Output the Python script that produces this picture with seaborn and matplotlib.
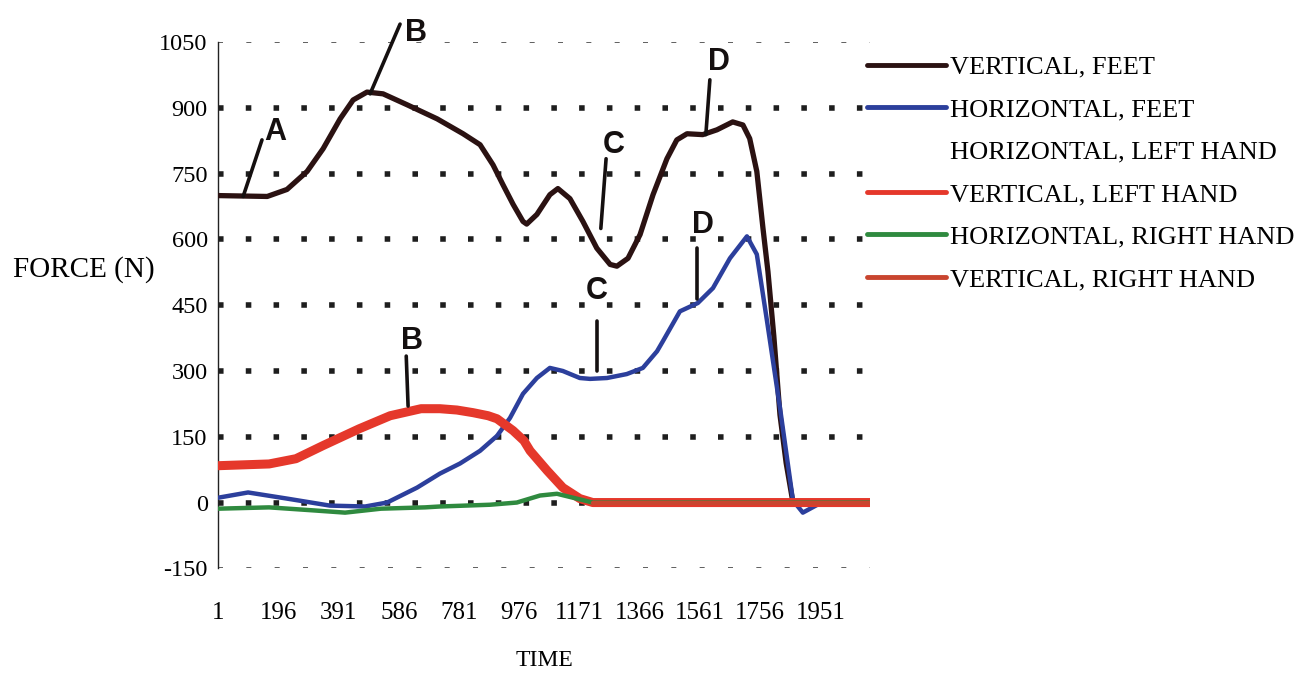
import numpy as np
import pandas as pd
import seaborn as sns
import matplotlib.pyplot as plt
from matplotlib.ticker import MultipleLocator

sns.set_theme(style="white")
plt.rcParams['font.family'] = ['Liberation Serif', 'DejaVu Serif']
plt.rcParams['axes.unicode_minus'] = False
for k in ['text.color', 'axes.labelcolor', 'xtick.color', 'ytick.color']:
    plt.rcParams[k] = 'black'

# series (time index, force in N)
vf_time = [1, 160, 224, 289, 341, 396, 438, 483, 535, 613, 710, 794, 849, 891, 923, 956,
           988, 1000, 1033, 1075, 1101, 1140, 1182, 1227, 1270, 1292, 1328, 1367, 1409,
           1454, 1486, 1519, 1570, 1616, 1667, 1700, 1722, 1745, 1765, 1781, 1800, 1820,
           1840, 1862, 1900, 2111]
vf_force = [700, 698, 714, 755, 807, 875, 918, 936, 932, 907, 875, 841, 816, 770, 725, 680,
            641, 635, 657, 702, 716, 693, 641, 580, 543, 539, 557, 611, 702,
            784, 827, 841, 839, 850, 868, 861, 830, 755, 625, 527, 380, 200,
            90, 0, 0, 0]

hf_time = [1, 98, 224, 363, 477, 548, 645, 719, 784, 849, 904, 946, 988, 1033, 1075, 1117,
           1172, 1205, 1260, 1324, 1376, 1422, 1441, 1496, 1554, 1603, 1658, 1713, 1745,
           1778, 1820, 1862, 1894, 1949, 2111]
hf_force = [11, 23, 9, -7, -9, 0, 34, 66, 89, 118, 152, 193, 248, 284, 307, 300,
            284, 282, 284, 293, 307, 345, 368, 436, 455, 489, 557, 607, 566,
            414, 216, 5, -23, -2, 0]

hlh_time = [1, 2111]
hlh_force = [0, 0]

vlh_time = [1, 166, 253, 341, 457, 558, 658, 719, 774, 826, 875, 904, 956, 991, 1011, 1066,
            1117, 1172, 1214, 2111]
vlh_force = [84, 88, 100, 130, 168, 198, 214, 214, 211, 205, 198, 191, 164, 141, 118, 73,
             34, 9, 0, 0]

hrh_time = [1, 166, 312, 412, 528, 671, 719, 881, 968, 1043, 1098, 1150, 1214, 2111]
hrh_force = [-14, -11, -18, -23, -14, -11, -9, -5, 0, 16, 20, 11, 0, 0]

vrh_time = [1214, 1600, 2111]
vrh_force = [0, 0, 0]

series_names = ["VERTICAL, FEET", "HORIZONTAL, FEET", "HORIZONTAL, LEFT HAND",
                "VERTICAL, LEFT HAND", "HORIZONTAL, RIGHT HAND", "VERTICAL, RIGHT HAND"]
series_colors = ["#2b1212", "#2c3f9c", "none", "#e5382b", "#2f8a3f", "#c9452f"]
series_widths = [3.8, 3.2, 2.0, 6.5, 3.2, 3.2]

y_ticks = [-150, 0, 150, 300, 450, 600, 750, 900, 1050]
x_ticks = [1, 196, 391, 586, 781, 976, 1171, 1366, 1561, 1756, 1951]

# hand-written marks on the scan: letter, text position, stroke start, stroke end
marks = [("A", (185, 845), (82, 698), (143, 827)),
         ("B", (640, 1070), (493, 932), (590, 1091)),
         ("C", (1283, 816), (1240, 625), (1257, 784)),
         ("D", (1622, 1005), (1580, 839), (1593, 964)),
         ("D", (1570, 634), (1551, 464), (1551, 580)),
         ("C", (1228, 482), (1228, 300), (1228, 414)),
         ("B", (629, 368), (616, 220), (610, 334))]

series = [(vf_time, vf_force), (hf_time, hf_force), (hlh_time, hlh_force),
          (vlh_time, vlh_force), (hrh_time, hrh_force), (vrh_time, vrh_force)]

fig = plt.figure(figsize=(13.14, 6.79), dpi=100)
ax = fig.add_axes([0.166, 0.163, 0.496, 0.775])

for i, (t, f) in enumerate(series):
    df = pd.DataFrame({"TIME": t, "FORCE": f})
    sns.lineplot(data=df, x="TIME", y="FORCE", ax=ax, color=series_colors[i],
                 linewidth=series_widths[i], label=series_names[i], zorder=3 + i,
                 solid_capstyle="round", solid_joinstyle="round")

ax.set_xlim(1, 2111)
ax.set_ylim(-150, 1050)
ax.set_yticks(y_ticks)
ax.set_yticklabels([str(v) for v in y_ticks])
ax.yaxis.set_minor_locator(MultipleLocator(50))
ax.set_xticks(x_ticks)
ax.set_xticklabels([str(v) for v in x_ticks])

ax.tick_params(axis="x", length=0, pad=24, labelsize=18)
ax.tick_params(axis="y", which="major", length=5, width=1, direction="inout", pad=5,
               labelsize=17.5)
ax.tick_params(axis="y", which="minor", length=3, width=0.8, direction="inout")

for s in ["top", "right", "bottom"]:
    ax.spines[s].set_visible(False)
ax.spines["left"].set_color("#222222")
ax.spines["left"].set_linewidth(1.0)

# dotted grid like the scan
ax.yaxis.grid(True, color="#1e1e1e", linestyle=(0, (1, 4)), linewidth=4)
gl = ax.get_ygridlines()
for g in (gl[0], gl[-1]):
    g.set_linewidth(1.2)
    g.set_linestyle((0, (3, 14)))
    g.set_color("#444444")
ax.set_axisbelow(True)

ax.set_xlabel("TIME", fontsize=17, labelpad=19)
ax.set_ylabel("FORCE (N)", fontsize=21, rotation=0, ha="right", va="center")
ax.yaxis.set_label_coords(-0.097, 0.567)

for letter, txt, p0, p1 in marks:
    ax.plot([p0[0], p1[0]], [p0[1], p1[1]], color="#151010", lw=2.6, zorder=10,
            clip_on=False, solid_capstyle="round")
    ax.text(txt[0], txt[1], letter, fontsize=22, fontweight="bold", color="#151010",
            family=["Liberation Sans", "DejaVu Sans"], ha="center", va="center",
            zorder=10, clip_on=False)

leg = ax.legend(loc="upper left", bbox_to_anchor=(0.652, 0.934), bbox_transform=fig.transFigure,
                frameon=False, fontsize=19, handlelength=3.0, handletextpad=0.15,
                labelspacing=0.72, borderaxespad=0)
for line in leg.get_lines():
    line.set_linewidth(3.5)

fig.savefig("out.png", dpi=100)
